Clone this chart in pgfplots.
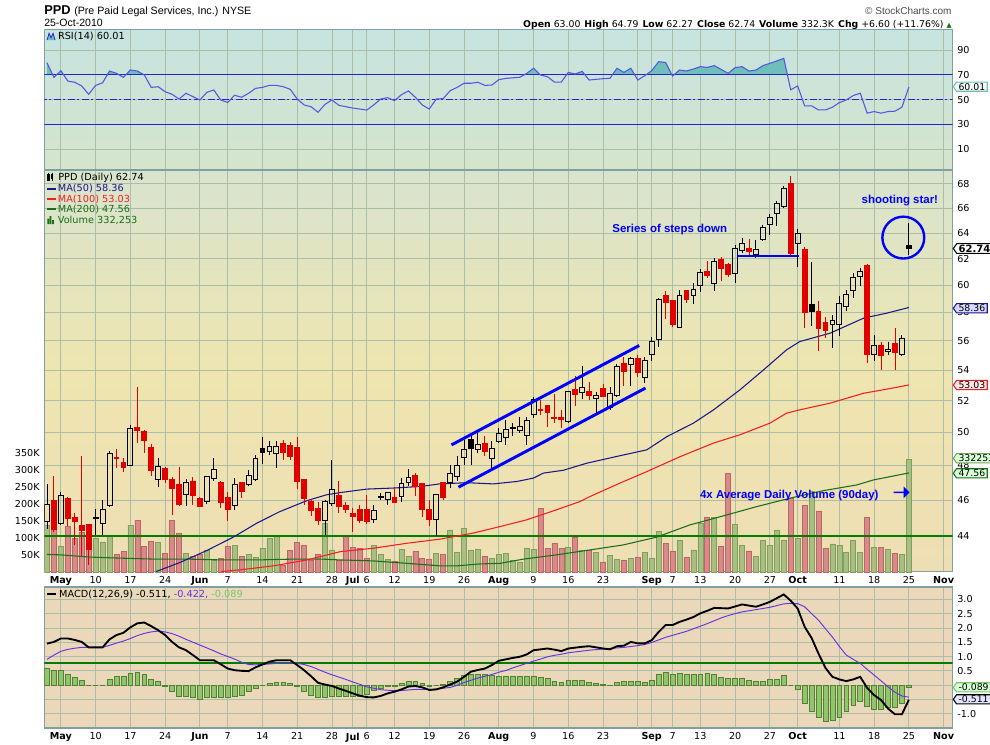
\documentclass[border=0pt]{standalone}
\usepackage{fontspec}
\setmainfont{DejaVu Sans}
\newfontfamily\lib{Liberation Sans}
\usepackage{pgfplots}
\usepackage{pgfplotstable}
\pgfplotsset{compat=1.18}
\usepgfplotslibrary{statistics}
\usetikzlibrary{shapes.arrows,shapes.symbols}

\definecolor{frame}{RGB}{128,160,160}
\definecolor{gridc}{RGB}{172,190,168}
\definecolor{rsiTop}{RGB}{198,228,224}
\definecolor{rsiBot}{RGB}{214,228,204}
\definecolor{pTop}{RGB}{216,228,206}
\definecolor{pMid}{RGB}{238,229,176}
\definecolor{pBot}{RGB}{238,222,180}
\definecolor{macdBg}{RGB}{235,215,185}
\definecolor{rsiLine}{RGB}{85,85,225}
\definecolor{rsiFill}{RGB}{110,190,185}
\definecolor{bline}{RGB}{35,35,210}
\definecolor{candleRed}{RGB}{225,0,0}
\definecolor{ma50}{RGB}{25,25,140}
\definecolor{ma100}{RGB}{245,30,30}
\definecolor{ma200}{RGB}{25,110,25}
\definecolor{volG}{RGB}{168,190,132}
\definecolor{volGe}{RGB}{128,160,90}
\definecolor{volR}{RGB}{214,138,138}
\definecolor{volRe}{RGB}{190,100,100}
\definecolor{histG}{RGB}{146,196,110}
\definecolor{histGe}{RGB}{80,130,50}
\definecolor{sigc}{RGB}{100,50,230}
\definecolor{gline}{RGB}{0,125,0}
\definecolor{annb}{RGB}{0,0,255}
\definecolor{lgreen}{RGB}{120,200,100}

% first row is a placeholder so that row (d+1) holds day d
\pgfplotstableread{
d o h l c lo hi
-1 45 45 45 45 45 45
0 44.79 46.90 44.36 45.76 44.79 45.76
1 45.94 47.39 44.23 44.36 44.36 45.94
2 44.66 46.44 44.60 46.27 44.66 46.27
3 46.06 46.15 44.56 44.97 44.97 46.06
4 45.00 45.25 43.51 44.79 44.79 45.00
5 44.55 48.58 42.92 44.29 44.29 44.55
6 44.60 44.65 42.44 43.24 43.24 44.60
7 44.95 45.48 44.05 45.02 44.95 45.02
8 44.66 46.00 44.05 45.48 44.66 45.48
9 45.68 48.88 45.64 48.74 45.68 48.74
10 48.48 48.98 47.84 48.40 48.40 48.48
11 48.18 48.42 47.64 47.88 47.88 48.18
12 48.03 50.48 47.98 50.27 48.03 50.27
13 50.33 52.92 49.35 50.12 50.12 50.33
14 50.06 50.16 48.74 49.51 49.51 50.06
15 49.11 49.31 47.39 47.70 47.70 49.11
16 47.19 48.42 46.76 47.97 47.19 47.97
17 47.84 47.90 46.99 47.19 47.19 47.84
18 47.19 47.35 45.16 46.64 46.64 47.19
19 46.86 47.90 45.68 45.72 45.72 46.86
20 46.29 47.21 45.66 46.99 46.29 46.99
21 47.04 47.35 45.72 46.23 46.23 47.04
22 46.09 46.15 45.60 45.64 45.64 46.09
23 45.90 47.39 45.78 47.35 45.90 47.35
24 47.25 48.42 47.09 47.74 47.25 47.74
25 46.99 47.09 45.54 45.86 45.86 46.99
26 46.15 46.47 44.84 45.48 45.48 46.15
27 45.66 47.29 45.44 46.86 45.66 46.86
28 46.99 47.03 46.09 46.47 46.47 46.99
29 46.88 47.74 46.82 47.39 46.88 47.39
30 47.15 48.62 47.11 48.42 47.15 48.42
31 49.04 49.72 48.07 48.80 48.80 49.04
32 48.84 49.45 48.62 49.14 48.84 49.14
33 48.70 49.45 47.88 49.14 48.70 49.14
34 49.31 49.55 48.34 48.78 48.78 49.31
35 49.19 49.39 48.34 48.54 48.54 49.19
36 49.11 49.72 46.61 47.09 47.09 49.11
37 47.15 47.18 45.72 46.09 46.09 47.15
38 45.90 46.04 45.10 45.38 45.38 45.90
39 45.54 45.90 44.60 44.84 44.84 45.54
40 44.84 46.00 44.05 45.90 44.84 45.90
41 45.81 48.34 45.64 46.61 45.81 46.61
42 46.23 47.09 45.25 45.64 45.64 46.23
43 45.68 45.90 45.25 45.48 45.48 45.68
44 45.25 45.54 44.23 45.06 45.06 45.25
45 45.48 45.72 44.70 44.84 44.84 45.48
46 45.48 46.29 44.66 44.80 44.80 45.48
47 44.91 45.72 44.70 45.40 44.91 45.40
48 46.15 46.39 46.00 46.19 46.15 46.19
49 46.00 46.47 45.72 46.42 46.00 46.42
50 46.15 46.76 45.81 45.86 45.86 46.15
51 46.19 47.25 45.90 46.94 46.19 46.94
52 46.99 47.78 46.82 47.31 46.99 47.31
53 47.41 47.54 46.23 46.76 46.76 47.41
54 46.94 46.99 45.02 45.48 45.48 46.94
55 45.48 46.00 44.56 44.91 44.91 45.48
56 44.91 46.33 44.02 46.29 44.91 46.29
57 46.99 47.03 46.00 46.15 46.15 46.99
58 46.99 48.01 46.67 47.51 46.99 47.51
59 47.35 48.58 47.09 48.03 47.35 48.03
60 48.48 49.55 48.03 48.98 48.48 48.98
61 49.59 49.80 48.01 49.04 49.04 49.59
62 48.94 49.95 48.74 49.25 48.94 49.25
63 49.31 49.76 48.54 48.84 48.84 49.31
64 48.44 49.45 47.84 49.04 48.44 49.04
65 49.45 50.27 49.35 49.97 49.45 49.97
66 49.72 50.75 49.25 50.16 49.72 50.16
67 50.24 50.62 49.80 50.30 50.24 50.30
68 50.12 50.99 49.97 50.37 50.12 50.37
69 49.82 50.99 49.21 50.75 49.82 50.75
70 51.10 52.27 50.89 52.06 51.10 52.06
71 51.46 52.02 51.10 51.37 51.37 51.46
72 51.67 51.67 50.37 51.25 51.25 51.67
73 50.93 52.45 50.62 50.85 50.85 50.93
74 50.93 51.42 50.27 50.82 50.82 50.93
75 50.68 52.66 50.62 52.58 50.68 52.58
76 52.75 53.63 51.67 52.38 52.38 52.75
77 52.54 54.30 52.10 52.88 52.54 52.88
78 52.60 53.25 52.06 52.32 52.32 52.60
79 52.12 52.60 51.21 52.34 52.12 52.34
80 52.82 53.08 52.28 52.30 52.30 52.82
81 51.59 52.88 51.38 52.49 51.59 52.49
82 52.32 54.43 52.23 54.25 52.32 54.25
83 54.48 54.88 52.95 53.92 53.92 54.48
84 54.36 54.92 52.95 54.81 54.36 54.81
85 54.81 55.04 53.54 53.87 53.87 54.81
86 53.54 54.88 53.18 54.65 53.54 54.65
87 55.04 56.26 54.65 55.95 55.04 55.95
88 56.07 59.04 55.60 58.91 56.07 58.91
89 59.21 59.53 57.52 58.72 58.72 59.21
90 58.84 58.86 56.96 57.12 57.12 58.84
91 56.96 59.65 56.90 59.21 56.96 59.21
92 59.58 59.62 58.72 58.96 58.96 59.58
93 59.21 60.14 58.62 59.70 59.21 59.70
94 59.95 61.19 59.46 60.93 59.95 60.93
95 61.01 61.85 60.52 60.69 60.69 61.01
96 60.14 62.03 59.53 61.77 60.14 61.77
97 61.90 62.11 60.34 61.27 61.27 61.90
98 61.52 61.64 60.64 60.77 60.77 61.52
99 60.85 63.06 60.14 62.80 60.85 62.80
100 62.59 63.58 62.45 63.14 62.59 63.14
101 62.80 63.50 62.11 62.54 62.54 62.80
102 62.28 63.45 62.03 62.72 62.28 62.72
103 63.45 64.64 63.40 64.46 63.45 64.46
104 64.64 65.52 63.84 65.25 64.64 65.25
105 65.58 66.61 64.51 66.39 65.58 66.39
106 66.12 67.84 66.06 67.64 66.12 67.64
107 68.01 68.65 62.11 62.40 62.40 68.01
108 63.14 64.30 61.39 63.92 63.14 63.92
109 62.72 62.88 56.89 58.03 58.03 62.72
110 58.55 61.77 57.01 58.10 58.10 58.55
111 58.10 58.84 55.33 56.89 56.89 58.10
112 57.30 57.71 56.19 56.72 56.72 57.30
113 57.12 57.83 55.50 57.42 57.12 57.42
114 57.12 59.21 56.35 58.67 57.12 58.67
115 58.43 59.60 58.10 59.28 58.43 59.28
116 59.60 60.93 59.04 60.57 59.60 60.57
117 60.62 61.27 59.90 61.01 60.62 61.01
118 61.47 61.59 54.47 55.08 55.08 61.47
119 55.06 56.38 54.65 55.67 55.06 55.67
120 55.67 55.95 54.03 54.97 54.97 55.67
121 55.24 55.95 55.04 55.38 55.24 55.38
122 55.79 56.89 54.03 55.20 55.20 55.79
123 55.06 56.42 54.99 56.14 55.06 56.14
124 63.00 64.79 62.27 62.74 62.74 63.00
}\candles

\pgfplotstableread{
d vg vr
0 138 nan
1 nan 126
2 76 nan
3 nan 135
4 nan 99
5 nan 117
6 nan 126
7 99 nan
8 87 nan
9 106 nan
10 nan 51
11 nan 60
12 138 nan
13 nan 153
14 nan 76
15 nan 90
16 87 nan
17 nan 55
18 nan 151
19 nan 114
20 55 nan
21 nan 45
22 nan 53
23 65 nan
24 33 nan
25 nan 40
26 nan 76
27 79 nan
28 nan 47
29 53 nan
30 43 nan
31 70 nan
32 99 nan
33 104 nan
34 nan 21
35 nan 63
36 nan 87
37 nan 78
38 nan 33
39 nan 51
40 143 nan
41 65 nan
42 nan 35
43 nan 104
44 nan 72
45 nan 70
46 nan 40
47 79 nan
48 51 nan
49 37 nan
50 nan 31
51 67 nan
52 47 nan
53 nan 60
54 nan 40
55 nan 38
56 55 nan
57 nan 51
58 124 nan
59 57 nan
60 129 nan
61 65 nan
62 67 nan
63 nan 47
64 40 nan
65 53 nan
66 55 nan
67 33 nan
68 30 nan
69 70 nan
70 67 nan
71 nan 188
72 nan 70
73 nan 85
74 nan 70
75 72 nan
76 nan 102
77 63 nan
78 nan 65
79 59 nan
80 nan 30
81 49 nan
82 37 nan
83 nan 33
84 40 nan
85 nan 43
86 59 nan
87 40 nan
88 119 nan
89 nan 85
90 nan 62
91 93 nan
92 nan 43
93 65 nan
94 143 nan
95 nan 161
96 161 nan
97 nan 76
98 nan 291
99 140 nan
100 79 nan
101 nan 62
102 47 nan
103 92 nan
104 79 nan
105 124 nan
106 92 nan
107 nan 217
108 99 nan
109 nan 197
110 239 nan
111 nan 180
112 nan 70
113 83 nan
114 79 nan
115 59 nan
116 93 nan
117 59 nan
118 nan 161
119 72 nan
120 nan 72
121 67 nan
122 nan 55
123 53 nan
124 332.253 nan
}\voldata

\pgfplotstableread{
d r
0 79.7
1 67.9
2 73.2
3 64.9
4 63.9
5 60.9
6 54.2
7 61.4
8 63.5
9 73.0
10 71.1
11 67.9
12 73.8
13 73.0
14 69.8
15 59.8
16 60.3
17 56.3
18 54.2
19 50.4
20 55.0
21 52.3
22 49.6
23 55.8
24 57.7
25 49.6
26 47.7
27 53.4
28 51.8
29 55.0
30 59.0
31 59.8
32 61.4
33 61.4
34 60.3
35 58.2
36 50.4
37 45.6
38 44.2
39 39.7
40 46.1
41 49.6
42 45.3
43 44.2
44 43.1
45 42.3
46 41.5
47 45.6
48 50.4
49 51.5
50 49.1
51 53.9
52 56.9
53 51.8
54 45.6
55 42.3
56 50.4
57 50.7
58 57.1
59 59.8
60 63.1
61 63.1
62 63.9
63 61.4
64 61.7
65 66.0
66 67.0
67 67.5
68 67.9
69 71.0
70 75.2
71 69.8
72 68.4
73 64.1
74 64.1
75 71.9
76 70.6
77 72.7
78 65.7
79 66.3
80 66.8
81 67.1
82 75.2
83 71.9
84 75.2
85 65.7
86 69.2
87 73.2
88 80.5
89 79.9
90 68.9
91 73.8
92 73.0
93 74.6
94 76.5
95 75.9
96 77.3
97 74.3
98 71.1
99 75.7
100 76.5
101 73.0
102 73.8
103 77.3
104 79.2
105 81.1
106 83.2
107 57.8
108 61.0
109 44.9
110 44.9
111 41.6
112 41.6
113 43.8
114 47.5
115 49.7
116 53.2
117 55.1
118 39.0
119 40.3
120 39.0
121 40.3
122 40.6
123 43.8
124 60.01
}\rsidata

\pgfplotstableread{
d m s h
0 1.45 0.90 0.58
1 1.51 1.05 0.52
2 1.63 1.18 0.52
3 1.63 1.25 0.37
4 1.58 1.29 0.27
5 1.51 1.32 0.17
6 1.32 1.32 0.00
7 1.32 1.32 0.00
8 1.32 1.32 0.00
9 1.60 1.39 0.21
10 1.75 1.47 0.29
11 1.83 1.54 0.29
12 2.02 1.63 0.41
13 2.16 1.73 0.44
14 2.19 1.81 0.37
15 2.06 1.86 0.21
16 1.92 1.89 0.12
17 1.75 1.86 -0.06
18 1.51 1.80 -0.20
19 1.32 1.71 -0.38
20 1.22 1.60 -0.38
21 1.05 1.50 -0.41
22 0.87 1.40 -0.49
23 0.87 1.30 -0.43
24 0.87 1.20 -0.41
25 0.73 1.09 -0.41
26 0.58 1.00 -0.41
27 0.52 0.91 -0.38
28 0.50 0.80 -0.35
29 0.49 0.72 -0.23
30 0.62 0.71 -0.12
31 0.72 0.72 0.00
32 0.82 0.74 0.06
33 0.87 0.76 0.09
34 0.87 0.77 0.09
35 0.87 0.77 0.06
36 0.70 0.76 -0.03
37 0.52 0.72 -0.20
38 0.31 0.65 -0.35
39 0.08 0.55 -0.41
40 0.02 0.45 -0.41
41 -0.03 0.36 -0.38
42 -0.12 0.28 -0.38
43 -0.20 0.20 -0.38
44 -0.29 0.11 -0.38
45 -0.37 0.03 -0.38
46 -0.42 -0.06 -0.31
47 -0.43 -0.11 -0.17
48 -0.38 -0.16 -0.12
49 -0.29 -0.18 -0.06
50 -0.23 -0.19 -0.03
51 -0.15 -0.19 0.06
52 -0.05 -0.17 0.14
53 -0.03 -0.15 0.14
54 -0.08 -0.15 0.06
55 -0.17 -0.15 -0.03
56 -0.15 -0.14 0.00
57 -0.08 -0.11 0.03
58 0.02 -0.08 0.14
59 0.12 -0.01 0.23
60 0.29 0.09 0.35
61 0.47 0.17 0.37
62 0.53 0.25 0.37
63 0.58 0.31 0.37
64 0.70 0.37 0.35
65 0.85 0.45 0.31
66 0.90 0.51 0.31
67 0.95 0.60 0.31
68 0.99 0.68 0.29
69 1.07 0.76 0.31
70 1.22 0.84 0.31
71 1.25 0.91 0.27
72 1.28 0.99 0.23
73 1.24 1.04 0.12
74 1.19 1.08 0.08
75 1.28 1.13 0.15
76 1.31 1.16 0.15
77 1.34 1.19 0.15
78 1.36 1.22 0.09
79 1.32 1.24 0.06
80 1.28 1.26 0.02
81 1.25 1.28 -0.01
82 1.36 1.30 0.09
83 1.38 1.32 0.12
84 1.51 1.35 0.14
85 1.46 1.38 0.12
86 1.46 1.42 0.09
87 1.57 1.49 0.17
88 1.86 1.58 0.37
89 2.10 1.67 0.44
90 2.10 1.74 0.38
91 2.21 1.81 0.41
92 2.29 1.88 0.37
93 2.38 1.97 0.37
94 2.51 2.06 0.38
95 2.60 2.15 0.41
96 2.70 2.25 0.37
97 2.69 2.35 0.26
98 2.68 2.43 0.23
99 2.75 2.50 0.23
100 2.82 2.56 0.23
101 2.78 2.60 0.15
102 2.74 2.64 0.12
103 2.82 2.68 0.14
104 2.91 2.72 0.21
105 3.04 2.78 0.21
106 3.17 2.84 0.33
107 2.95 2.86 0.00
108 2.68 2.85 -0.15
109 2.04 2.74 -0.62
110 1.65 2.50 -0.93
111 1.10 2.27 -1.14
112 0.60 1.97 -1.28
113 0.29 1.68 -1.22
114 0.20 1.35 -1.11
115 0.14 1.05 -0.93
116 0.20 0.90 -0.70
117 0.29 0.76 -0.58
118 -0.10 0.55 -0.73
119 -0.35 0.35 -0.84
120 -0.52 0.15 -0.84
121 -0.82 -0.06 -0.79
122 -1.02 -0.25 -0.79
123 -1.02 -0.38 -0.64
124 -0.511 -0.422 -0.089
}\macddata

\pgfplotsset{
  panel/.style={scale only axis, width=681.3pt, xmin=-0.39, xmax=130.3,
    xtick={2,7,12,17,22,26,31,36,41,44,46,50,55,60,65,70,75,80,87,90,94,99,104,108,114,119,124,129},
    extra x ticks={85}, extra x tick labels={},
    tick label style={font=\fontsize{7.2}{8}\selectfont},
    axis line style={draw=frame, line width=0.8pt},
    tick style={draw=none},
    grid style={draw=gridc, line width=0.6pt},
  },
  datelabels/.style={xticklabels={\textbf{May},10,17,24,\textbf{Jun},7,14,21,28,\textbf{Jul},6,12,19,26,\textbf{Aug},9,16,23,\textbf{Sep},7,13,20,27,\textbf{Oct},11,18,25,\textbf{Nov}}},
  candlebase/.style={line width=0.7pt, boxplot/draw direction=y, boxplot/box extend=0.7, boxplot/whisker extend=0,
    boxplot/every median/.style={draw=none}},
  candR/.style={candlebase, color=candleRed, boxplot/every box/.style={fill=candleRed}},
  candK/.style={candlebase, color=black, boxplot/every box/.style={fill=black}},
  candW/.style={candlebase, color=black, boxplot/every box/.style={fill=none}},
}
\tikzset{
  tag/.style={signal, signal to=west, signal pointer angle=110, draw=#1, line width=0.8pt,
    inner xsep=1.5pt, inner ysep=0.8pt, font=\fontsize{7}{8}\selectfont, anchor=west},
}

% one candle: #1 = day index (table row #1+1), #2 = style
\newcommand\drawcandle[2]{%
  \pgfmathtruncatemacro\cndRow{#1+1}%
  \pgfplotstablegetelem{\cndRow}{l}\of\candles\let\cndL\pgfplotsretval
  \pgfplotstablegetelem{\cndRow}{h}\of\candles\let\cndH\pgfplotsretval
  \pgfplotstablegetelem{\cndRow}{lo}\of\candles\let\cndLo\pgfplotsretval
  \pgfplotstablegetelem{\cndRow}{hi}\of\candles\let\cndHi\pgfplotsretval
  \edef\tmpcandle{\noexpand\addplot[#2, boxplot prepared={draw position=#1.0001, lower whisker=\cndL, upper whisker=\cndH, lower quartile=\cndLo, upper quartile=\cndHi, median=\cndLo}] coordinates {};}%
  \tmpcandle
}

\begin{document}
\begin{tikzpicture}
\useasboundingbox (0,0) rectangle (742.5pt,-558pt);
\fill[white] (0,0) rectangle (742.5pt,-558pt);

% ---------------- header
\node[anchor=base west, inner sep=0pt, font=\lib\bfseries\fontsize{9.6}{11}\selectfont] at (33pt,-11.2pt) {PPD};
\node[anchor=base west, inner sep=0pt, font=\lib\fontsize{8}{10}\selectfont] at (55.5pt,-10.8pt) {(Pre Paid Legal Services, Inc.)\hspace{3pt}NYSE};
\node[anchor=base west, inner sep=0pt, font=\lib\fontsize{7.9}{9}\selectfont] at (33pt,-19.9pt) {25-Oct-2010};
\node[anchor=base east, inner sep=0pt, font=\lib\fontsize{7.5}{9}\selectfont, text=black!70] at (713.8pt,-10.9pt) {© StockCharts.com};
\node[anchor=base east, inner sep=0pt, font=\fontsize{7}{8}\selectfont] at (714pt,-20.3pt)
 {\textbf{Open} 63.00\hspace{3pt}\textbf{High} 64.79\hspace{3pt}\textbf{Low} 62.27\hspace{3pt}\textbf{Close} 62.74\hspace{3pt}\textbf{Volume} 332.3K\hspace{3pt}\textbf{Chg} +6.60 (+11.76\%) \textcolor{gline}{\fontsize{5}{6}\selectfont ▲}};

% ---------------- RSI panel
\begin{axis}[panel, at={(33.2pt,-22pt)}, anchor=north west, height=105.5pt,
  ymin=-6.85, ymax=106.6, ytick={10,30,50,70,90}, yticklabels={10,30,50,70,90},
  yticklabel pos=right, xticklabels={}, xmajorgrids, ymajorgrids,
  axis background/.style={top color=rsiTop, bottom color=rsiBot}]
\begin{scope}
\clip (axis cs:-1,70) rectangle (axis cs:131,106.6);
\addplot[fill=rsiFill, draw=none] table[x=d,y=r] {\rsidata} \closedcycle;
\end{scope}
\addplot[bline, line width=0.9pt] coordinates {(-1,70) (131,70)};
\addplot[bline, line width=0.9pt] coordinates {(-1,30) (131,30)};
\addplot[bline, line width=0.9pt, dash pattern=on 5pt off 2pt on 1.5pt off 2pt] coordinates {(-1,50) (131,50)};
\addplot[rsiLine, line width=0.8pt] table[x=d,y=r] {\rsidata};
\end{axis}

% ---------------- price panel: background + grid
\begin{axis}[panel, at={(33.2pt,-127.5pt)}, anchor=north west, height=301.5pt,
  ymode=log, ymin=42.08, ymax=69.18, ytick={44,46,48,50,52,54,56,58,60,62,64,66,68},
  yticklabels={}, xticklabels={}, xmajorgrids, ymajorgrids,
  axis background/.style={shade, top color=pTop, bottom color=pBot, middle color=pMid}]
\addplot[draw=none] coordinates {(0,50) (1,51)};
\end{axis}

% ---------------- volume
\begin{axis}[panel, at={(33.2pt,-127.5pt)}, anchor=north west, height=301.5pt,
  ymin=0, ymax=1185.8, ytick={50,100,150,200,250,300,350},
  yticklabels={50K,100K,150K,200K,250K,300K,350K}, yticklabel pos=left,
  xticklabels={}, axis line style={draw=none}]
\addplot[ybar, bar shift=0pt, bar width=0.72, fill=volG, draw=volGe, line width=0.5pt] table[x=d,y=vg] {\voldata};
\addplot[ybar, bar shift=0pt, bar width=0.72, fill=volR, draw=volRe, line width=0.5pt] table[x=d,y=vr] {\voldata};
\end{axis}

% ---------------- price plots
\begin{axis}[panel, datelabels, at={(33.2pt,-127.5pt)}, anchor=north west, height=301.5pt,
  ymode=log, ymin=42.08, ymax=69.18, ytick={44,46,48,50,52,54,56,58,60,62,64,66,68},
  yticklabels={44,46,48,50,52,54,56,58,60,62,64,66,68}, yticklabel pos=right,
  axis line style={draw=none}]
\addplot[gline, line width=1.9pt] coordinates {(-1,44) (131,44)};
\addplot[ma200, line width=0.8pt] coordinates {(0,43.00) (1.9,42.98) (6.2,42.86) (11,42.80) (15.8,42.75) (20.6,42.75) (25.4,42.71) (30.2,42.71) (35,42.75) (39.8,42.75) (42.2,42.71) (46.9,42.66) (51.8,42.53) (56.5,42.40) (59,42.40) (62.3,42.50) (65.2,42.53) (68.5,42.75) (73.3,42.98) (78.1,43.24) (82.9,43.51) (87.7,43.93) (92.5,44.60) (97.3,45.10) (102.1,45.62) (106.9,46.10) (111.7,46.53) (116.5,46.86) (118.9,47.15) (124,47.56)};
\addplot[ma100, line width=0.8pt] coordinates {(25.1,42.10) (27.8,42.19) (32.6,42.40) (37.4,42.71) (42.2,43.15) (46.9,43.33) (51.8,43.60) (56.5,43.82) (61.3,44.15) (65.2,44.51) (69.0,44.88) (73.3,45.44) (76.7,45.91) (78.1,46.19) (82.4,46.96) (86.3,47.64) (91.1,48.53) (95.9,49.35) (99.7,49.86) (104.0,50.58) (106.4,51.21) (108.3,51.42) (112.7,51.85) (117.5,52.49) (120.8,52.75) (124,53.03)};
\addplot[ma50, line width=0.8pt] coordinates {(15.7,42.10) (19.1,42.57) (23.0,43.21) (26.8,43.93) (30.2,44.70) (33.5,45.34) (37.4,45.96) (40.2,46.29) (42.2,46.42) (46.0,46.62) (49.8,46.68) (53.7,46.77) (56.5,46.92) (60.4,46.99) (64.2,46.92) (67.6,47.06) (70.0,47.26) (71.4,47.55) (74.3,47.72) (77.7,48.14) (82.4,48.58) (86.3,48.94) (89.2,49.75) (93.0,50.58) (95.9,51.42) (99.7,52.71) (103.1,54.03) (106.4,55.38) (108.3,55.95) (112.7,56.54) (117.5,57.60) (120.8,57.95) (124,58.36)};

\pgfplotsinvokeforeach{1,3,4,5,6,10,11,13,14,15,17,18,19,21,22,25,26,28,34,35,36,37,38,39,42,43,44,45,46,50,53,54,55,57,63,71,72,73,74,76,78,80,83,85,89,90,92,95,97,98,101,107,109,111,112,118,120,122}{\drawcandle{#1}{candR}}
\pgfplotsinvokeforeach{31,61,110,124}{\drawcandle{#1}{candK}}
\pgfplotsinvokeforeach{0,2,7,8,9,12,16,20,23,24,27,29,30,32,33,40,41,47,48,49,51,52,56,58,59,60,62,64,65,66,67,68,69,70,75,77,79,81,82,84,86,87,88,91,93,94,96,99,100,102,103,104,105,106,108,113,114,115,116,117,119,121,123}{\drawcandle{#1}{candW}}

% annotations
\addplot[annb, line width=2.2pt] coordinates {(58.2,49.24) (85.2,55.68)};
\addplot[annb, line width=2.2pt] coordinates {(59.2,46.73) (86.1,52.82)};
\addplot[annb, line width=2pt] coordinates {(99.2,62.21) (108.2,62.21)};
\draw[annb, line width=1.8pt] (axis cs:123.2,63.63) circle[radius=15.7pt];
\node[text=annb, font=\lib\bfseries\fontsize{8.6}{10}\selectfont] at (axis cs:89.6,64.29) {Series of steps down};
\node[text=annb, font=\lib\bfseries\fontsize{8.6}{10}\selectfont] at (axis cs:122.7,66.59) {shooting star!};
\node[text=annb, font=\lib\bfseries\fontsize{8.6}{10}\selectfont] at (axis cs:106.8,46.25) {4x Average Daily Volume (90day)};
\node[single arrow, fill=annb, draw=none, minimum height=12pt, minimum width=9pt, single arrow head extend=1.5pt, inner sep=0pt] at (axis cs:122.9,46.43) {};
\end{axis}

% ---------------- MACD panel
\begin{axis}[panel, datelabels, at={(33.2pt,-440.25pt)}, anchor=north west, height=105.75pt,
  ymin=-1.50, ymax=3.43, ytick={-1,-0.5,0,0.5,1,1.5,2,2.5,3},
  yticklabels={-1.0,,,0.5,1.0,1.5,2.0,2.5,3.0}, yticklabel pos=right,
  xmajorgrids, ymajorgrids,
  axis background/.style={fill=macdBg}]
\addplot[ybar, bar shift=0pt, bar width=0.7, fill=histG, draw=histGe, line width=0.5pt] table[x=d,y=h] {\macddata};
\addplot[gline, line width=1.6pt] coordinates {(-1,0.78) (131,0.78)};
\addplot[sigc, line width=0.7pt] table[x=d,y=s] {\macddata};
\addplot[black, line width=1.4pt] table[x=d,y=m] {\macddata};
\end{axis}

% ---------------- legends
\fill[rsiFill] (35.3pt,-30pt) -- (36.8pt,-25pt) -- (38.3pt,-28.3pt) -- (39.8pt,-25pt) -- (41.3pt,-30pt) -- cycle;
\draw[bline, line width=0.6pt] (35.3pt,-30pt) -- (36.8pt,-25pt) -- (38.3pt,-28.3pt) -- (39.8pt,-25pt) -- (41.3pt,-30pt);
\node[anchor=west, inner sep=0pt, font=\fontsize{7.3}{8}\selectfont] at (43.3pt,-27.2pt) {RSI(14) 60.01};

\draw[black, line width=0.6pt] (35.6pt,-131pt) rectangle (37pt,-135pt);
\fill[black] (38.3pt,-130.5pt) rectangle (39.7pt,-134pt);
\draw[black, line width=0.5pt] (36.3pt,-130pt) -- (36.3pt,-136pt) (39pt,-129.5pt) -- (39pt,-135.5pt);
\node[anchor=west, inner sep=0pt, font=\fontsize{7.3}{8}\selectfont] at (43.5pt,-133.3pt) {PPD (Daily) 62.74};
\draw[ma50, line width=1.6pt] (35.3pt,-141.5pt) -- (42pt,-141.5pt);
\node[anchor=west, inner sep=0pt, font=\fontsize{7.3}{8}\selectfont, text=ma50] at (43.2pt,-141.5pt) {MA(50) 58.36};
\draw[ma100, line width=1.6pt] (35.3pt,-149.5pt) -- (42pt,-149.5pt);
\node[anchor=west, inner sep=0pt, font=\fontsize{7.3}{8}\selectfont, text=ma100] at (43.2pt,-149.5pt) {MA(100) 53.03};
\draw[ma200, line width=1.6pt] (35.3pt,-157pt) -- (42pt,-157pt);
\node[anchor=west, inner sep=0pt, font=\fontsize{7.3}{8}\selectfont, text=ma200] at (43.2pt,-157pt) {MA(200) 47.56};
\fill[ma200] (35.5pt,-168pt) rectangle (36.8pt,-164pt) (37.3pt,-168pt) rectangle (38.6pt,-162pt) (39.1pt,-168pt) rectangle (40.4pt,-165pt);
\node[anchor=west, inner sep=0pt, font=\fontsize{7.3}{8}\selectfont, text=ma200] at (43.2pt,-165pt) {Volume 332,253};

\draw[black, line width=1.6pt] (35.3pt,-445.7pt) -- (42pt,-445.7pt);
\node[anchor=west, inner sep=0pt, font=\fontsize{7.3}{8}\selectfont] at (44.2pt,-445.7pt) {MACD(12,26,9) -0.511, \textcolor{sigc}{-0.422,} \textcolor{lgreen}{-0.089}};

% ---------------- right-side value tags
\node[tag=rsiFill, fill=white!85!rsiTop] at (714.5pt,-65pt) {60.01};
\node[tag=black, fill=white, font=\bfseries\fontsize{7.5}{8}\selectfont] at (714.5pt,-186.4pt) {62.74};
\node[tag=ma50, fill=white!85!blue] at (714.5pt,-231.2pt) {58.36};
\node[tag=ma100, fill=white!90!red] at (714.5pt,-288.75pt) {53.03};
\node[tag=volGe, fill=white!85!green] at (714.5pt,-343.7pt) {332253};
\node[tag=ma200, fill=white!85!green] at (714.5pt,-355pt) {47.56};
\node[tag=lgreen, fill=white!85!green] at (714.5pt,-515.5pt) {-0.089};
\node[tag=black, fill=white!90!blue] at (714.5pt,-524.5pt) {-0.511};
\end{tikzpicture}
\end{document}
